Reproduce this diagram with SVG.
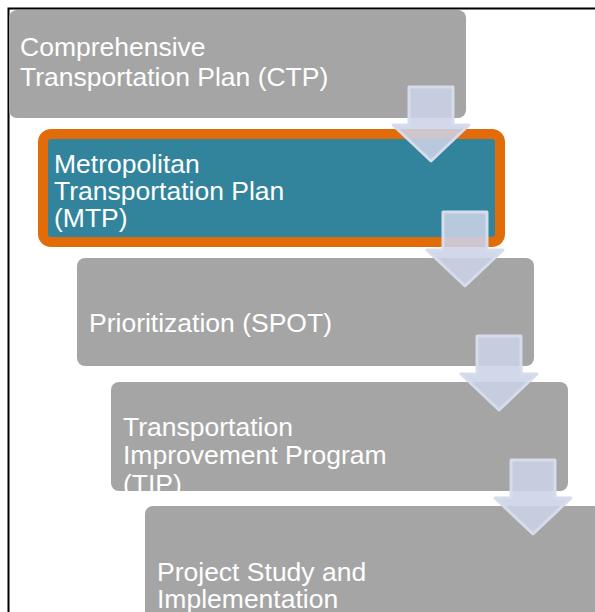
<svg xmlns="http://www.w3.org/2000/svg" width="595" height="612" viewBox="0 0 595 612">
<style>
.box{fill:#a5a5a5}
.hl{fill:#31849b;stroke:#e36c0a;stroke-width:10}
.t{font-family:"Liberation Sans",Arial,sans-serif;font-size:26.5px;fill:#ffffff}
.arr{fill:#cbd3e7;fill-opacity:0.88;stroke:#d7dcec;stroke-width:3;stroke-linejoin:round}
</style>
<rect width="595" height="612" fill="#ffffff"/>
<rect x="8.5" y="8.5" width="620" height="640" fill="none" stroke="#000000" stroke-width="2"/>
<g id="ctp">
<rect class="box" x="9" y="10" width="457" height="108" rx="8"/>
<text class="t" x="20" y="56">Comprehensive</text>
<text class="t" x="20" y="86">Transportation Plan (CTP)</text>
</g>
<g id="mtp">
<rect class="hl" x="43" y="134" width="457" height="108" rx="8"/>
<text class="t" x="54" y="173">Metropolitan</text>
<text class="t" x="54" y="200">Transportation Plan</text>
<text class="t" x="54" y="227">(MTP)</text>
</g>
<g id="spot">
<rect class="box" x="77" y="258" width="457" height="108" rx="8"/>
<text class="t" x="89" y="332">Prioritization (SPOT)</text>
</g>
<g id="tip">
<rect class="box" x="111" y="382" width="457" height="109" rx="8"/>
<text class="t" x="123" y="436">Transportation</text>
<text class="t" x="123" y="464">Improvement Program</text>
<text class="t" x="123" y="493">(TIP)</text>
</g>
<g id="psi">
<rect class="box" x="145" y="506" width="457" height="120" rx="8"/>
<text class="t" x="157" y="581">Project Study and</text>
<text class="t" x="157" y="608">Implementation</text>
</g>
<g id="connectors">
<path class="arr" d="M409,87 H453 V125 H469 L431,161 L393,125 H409 Z"/>
<path class="arr" d="M443,212 H487 V250 H503 L465,286 L427,250 H443 Z"/>
<path class="arr" d="M477,336 H521 V374 H537 L499,410 L461,374 H477 Z"/>
<path class="arr" d="M511,460 H555 V498 H571 L533,534 L495,498 H511 Z"/>
</g>
</svg>
